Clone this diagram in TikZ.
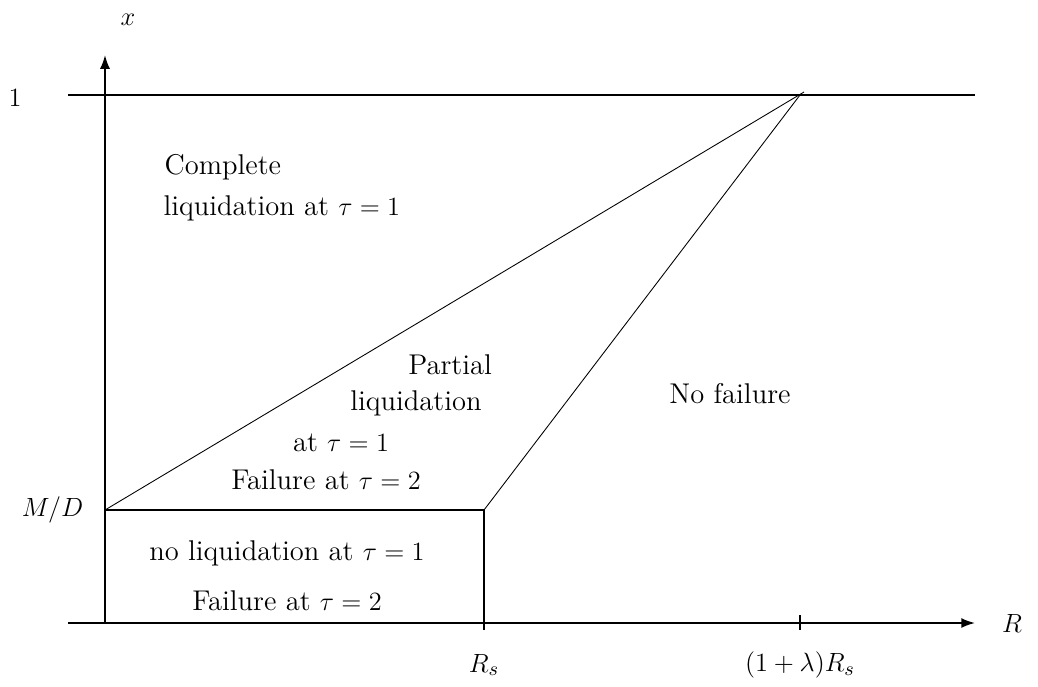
\documentclass[tikz,border=0pt]{standalone}
\usetikzlibrary{arrows.meta}

\begin{document}
\begin{tikzpicture}[
  x=0.016cm, y=-0.016cm,
  font=\fontsize{13}{15.6}\selectfont,
  axis/.style = {-{Latex[length=2.2mm, width=1.6mm]}, thick},
  edge/.style = {thick},
  bound/.style = {thin},
  lbl/.style = {align=center, inner sep=1pt}
]
\useasboundingbox (0,0) rectangle (1038,686);

% Corner points
\coordinate (O) at (105,623);
\coordinate (md) at (105,510);
\coordinate (rs) at (484,510);
\coordinate (rsb) at (484,623);
\coordinate (top) at (800,95);
\coordinate (topx) at (804,92);

% Axes and the level x = 1
\draw[axis] (68,623) coordinate (xl) -- (975,623) coordinate (xr);
\draw[axis] (O) -- (105,55) coordinate (yt);
\draw[edge] (68,95) coordinate (ol) -- (975,95) coordinate (or);

% Ticks
\draw[edge] (484,630) -- (rsb);
\draw[edge] (800,615) coordinate (t1) -- (800,630) coordinate (t2);

% Regions
\draw[edge] (md) -- (rs) -- (rsb);
\draw[bound] (md) -- (topx);
\draw[bound] (rs) -- (top);

% Axis labels
\node (lx) at (128,20) {$x$};
\node (l1) at (15,98) {$1$};
\node[anchor=east] (lmd) at (91,510) {$M/D$};
\node (lR) at (1012,623) {$R$};
\node (lRs) at (484,665) {$R_s$};
\node (lRl) at (800,665) {$(1+\lambda)R_s$};

% Region labels
\node[lbl, anchor=west] (c1) at (162,167) {Complete};
\node[lbl, anchor=west] (c2) at (161,208) {liquidation at $\tau=1$};
\node[lbl] (p1) at (450,365) {Partial};
\node[lbl] (p2) at (416,403) {liquidation};
\node[lbl] (p3) at (341,443) {at $\tau=1$};
\node[lbl] (p4) at (326,480) {Failure at $\tau=2$};
\node[lbl] (nf) at (730,394) {No failure};
\node[lbl] (n1) at (287,553) {no liquidation at $\tau=1$};
\node[lbl] (n2) at (287,601) {Failure at $\tau=2$};
\end{tikzpicture}
\end{document}
